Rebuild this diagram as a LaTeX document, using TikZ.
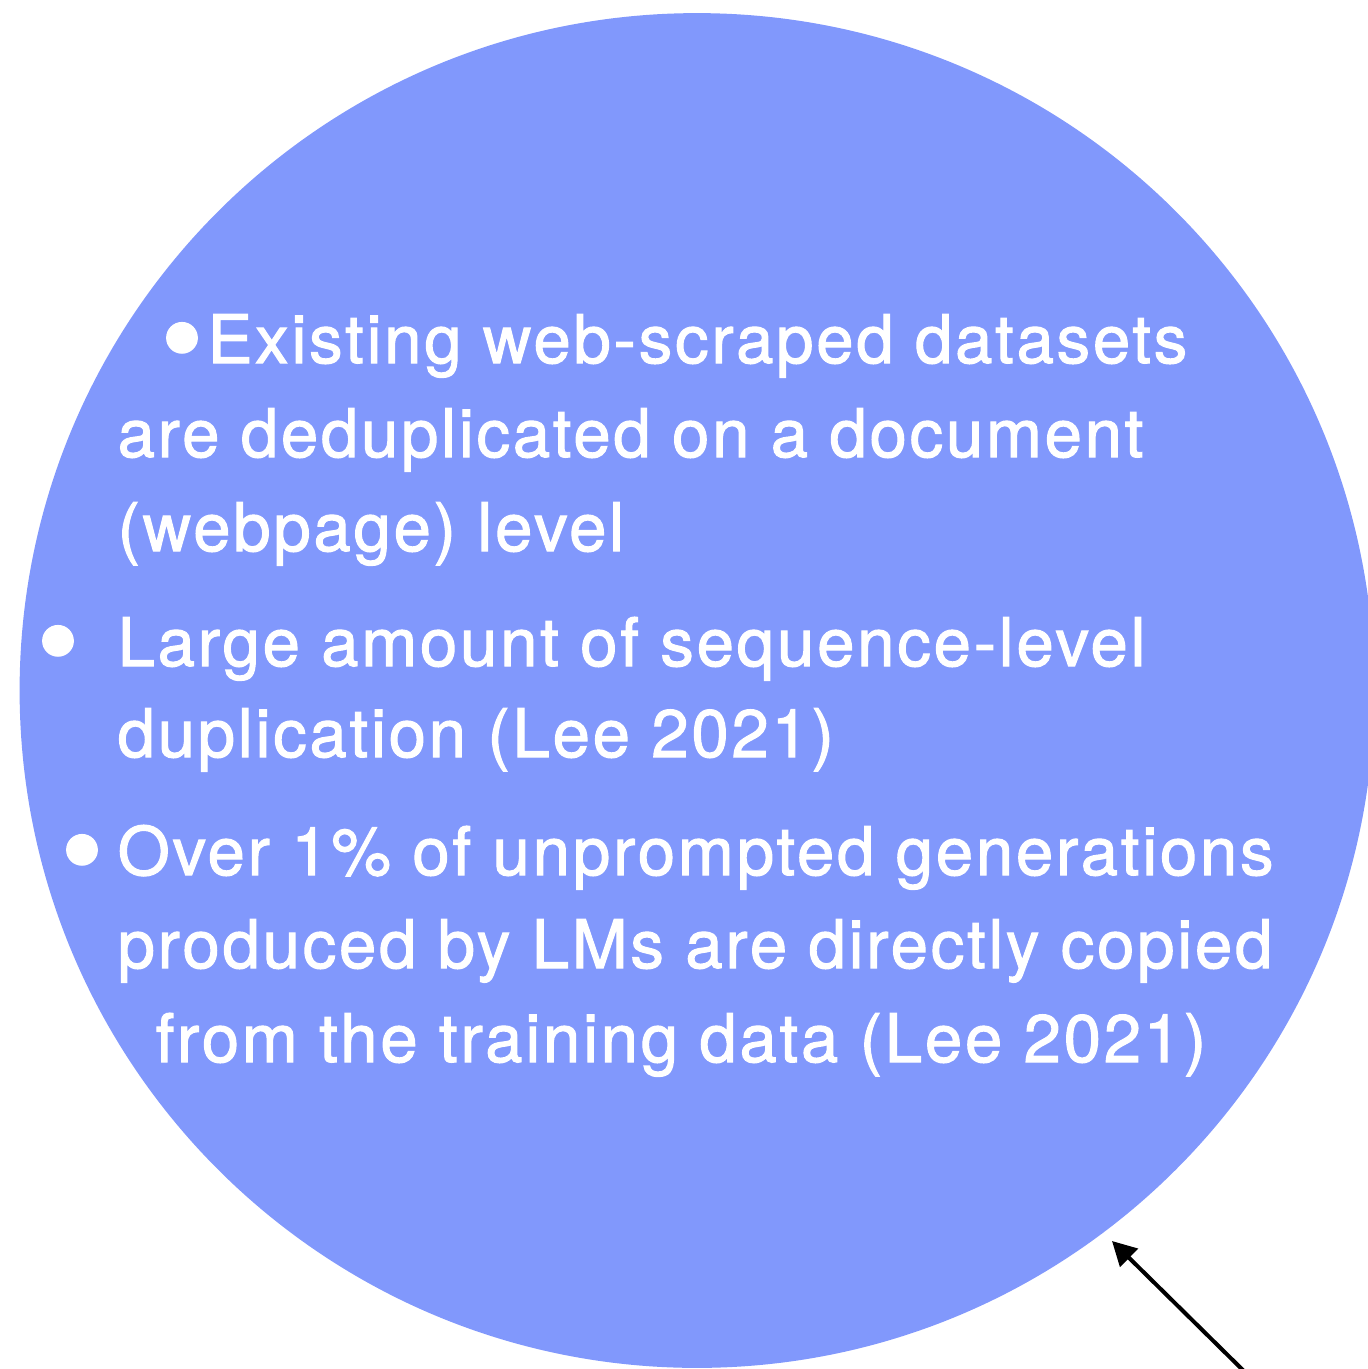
\documentclass[tikz,border=0pt]{standalone}
\usepackage{fontspec}
\setmainfont{TeX Gyre Heros}[LetterSpace=4.2, FakeBold=1.6]
\usetikzlibrary{arrows.meta}
\definecolor{bubble}{RGB}{129,152,252}
\newcommand{\bodyfont}{\fontsize{19.05pt}{26pt}\selectfont}
\newcommand{\dotfont}{\fontsize{34pt}{34pt}\selectfont}

\begin{document}
\begin{tikzpicture}[x=0.01cm, y=-0.01cm,
	txt/.style={anchor=base west, inner sep=0pt, text=white, font=\bodyfont},
	dot/.style={anchor=center, inner sep=0pt, text=white, font=\dotfont},
	pointer/.style={-{Triangle[length=0.24cm,width=0.25cm]}, line width=0.04cm}]
		%%%%% START %%%%%
		
		\useasboundingbox (0, 0) rectangle (1368, 1369);
		\clip (0, 0) rectangle (1368, 1369);
		
		\fill[bubble] (697, 690.5) circle (6.77cm);
		
		\node[dot] (b1) at (182, 351) {•};
		\node[txt] (l1) at (207, 363) {Existing web-scraped datasets};
		\node[txt] (l2) at (117, 457) {are deduplicated on a document};
		\node[txt] (l3) at (117, 551) {(webpage) level};
		
		\node[dot] (b2) at (58, 654) {•};
		\node[txt] (l4) at (117, 666) {Large amount of sequence-level};
		\node[txt] (l5) at (117, 757) {duplication (Lee 2021)};
		
		\node[dot] (b3) at (82, 863) {•};
		\node[txt] (l6) at (117, 875) {Over 1\% of unprompted generations};
		\node[txt] (l7) at (117, 968) {produced by LMs are directly copied};
		\node[txt] (l8) at (155, 1062) {from the training data (Lee 2021)};
		
		\coordinate (tail) at (1255, 1382);
		\coordinate (tip) at (1112, 1241);
		\draw[pointer] (tail) -- (tip);
		
		%%%%% END %%%%%
	\end{tikzpicture}
\end{document}
